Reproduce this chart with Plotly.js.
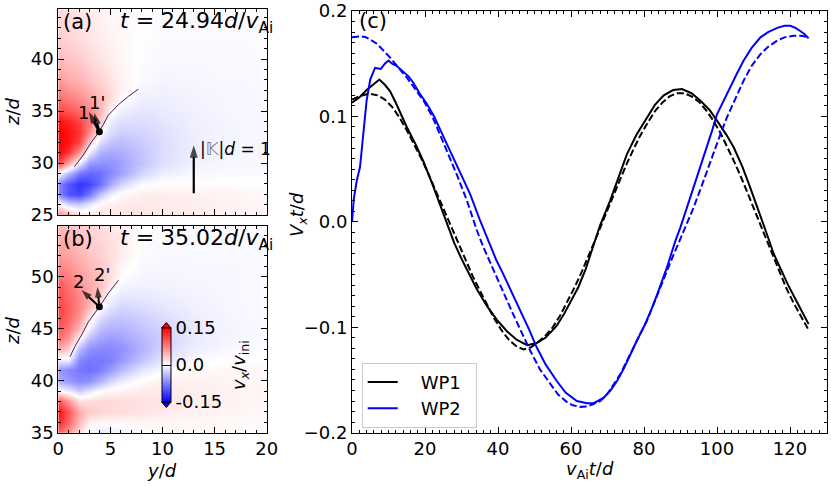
<!DOCTYPE html>
<html><head><meta charset="utf-8">
<script src="https://cdn.plot.ly/plotly-3.0.1.min.js"></script>
<style>html,body{margin:0;padding:0;background:#fff}#plot{width:831px;height:486px}</style>
</head><body><div id="plot"></div>
<script>
// ---------- panel (a) / (b) field grids ----------
const gridY = [0, 1, 2, 3, 4, 5, 6, 8, 10, 13, 16, 20];
const gridZa = [25, 26, 27, 28, 29, 30, 31, 32, 33, 34, 35, 36, 37, 38, 40, 42, 45];
const fieldA = [
 [0.07, 0.05, 0.02, 0.015, 0.015, 0.015, 0.015, 0.015, 0.012, 0.01, 0.008, 0.005],
 [0.01, -0.025, -0.03, -0.015, 0.005, 0.01, 0.012, 0.014, 0.012, 0.01, 0.008, 0.005],
 [-0.07, -0.1, -0.11, -0.08, -0.035, -0.01, 0.003, 0.01, 0.01, 0.008, 0.006, 0.004],
 [-0.07, -0.1, -0.12, -0.11, -0.085, -0.05, -0.025, -0.002, 0.002, 0.002, 0.002, 0.001],
 [0.0, -0.04, -0.08, -0.09, -0.085, -0.07, -0.055, -0.025, -0.01, -0.004, -0.003, -0.002],
 [0.11, 0.05, -0.01, -0.06, -0.065, -0.065, -0.055, -0.035, -0.018, -0.008, -0.005, -0.004],
 [0.15, 0.12, 0.06, -0.01, -0.045, -0.05, -0.048, -0.034, -0.02, -0.01, -0.006, -0.004],
 [0.15, 0.14, 0.11, 0.03, -0.02, -0.035, -0.038, -0.03, -0.02, -0.01, -0.006, -0.004],
 [0.15, 0.14, 0.12, 0.07, 0.0, -0.02, -0.028, -0.025, -0.018, -0.01, -0.006, -0.004],
 [0.14, 0.13, 0.11, 0.08, 0.03, -0.01, -0.018, -0.02, -0.015, -0.009, -0.006, -0.004],
 [0.11, 0.1, 0.09, 0.07, 0.045, 0.004, -0.01, -0.015, -0.012, -0.008, -0.005, -0.004],
 [0.09, 0.08, 0.07, 0.055, 0.04, 0.02, 0.0, -0.01, -0.01, -0.007, -0.005, -0.004],
 [0.075, 0.065, 0.055, 0.045, 0.032, 0.02, 0.008, -0.006, -0.008, -0.006, -0.005, -0.004],
 [0.06, 0.05, 0.045, 0.035, 0.025, 0.016, 0.008, -0.003, -0.006, -0.005, -0.004, -0.004],
 [0.04, 0.035, 0.03, 0.022, 0.016, 0.01, 0.005, -0.001, -0.004, -0.004, -0.004, -0.003],
 [0.03, 0.025, 0.02, 0.015, 0.01, 0.007, 0.004, 0.0, -0.003, -0.003, -0.003, -0.003],
 [0.02, 0.018, 0.014, 0.01, 0.007, 0.005, 0.003, 0.0, -0.002, -0.002, -0.002, -0.002]
];
const gridZb = [35, 36, 37, 38, 39, 40, 41, 42, 43, 44, 45, 46, 47, 48, 49, 50, 52, 55];
const fieldB = [
 [0.09, 0.06, 0.02, -0.01, -0.015, -0.012, -0.008, 0.0, 0.004, 0.004, 0.003, 0.002],
 [0.13, 0.09, 0.04, 0.01, 0.005, 0.004, 0.004, 0.006, 0.006, 0.005, 0.004, 0.003],
 [0.14, 0.1, 0.05, 0.03, 0.025, 0.022, 0.02, 0.016, 0.012, 0.008, 0.006, 0.004],
 [0.1, 0.06, 0.02, 0.02, 0.022, 0.022, 0.02, 0.018, 0.015, 0.01, 0.008, 0.005],
 [0.005, -0.01, -0.03, -0.015, 0.0, 0.005, 0.008, 0.012, 0.013, 0.01, 0.008, 0.006],
 [-0.05, -0.06, -0.07, -0.065, -0.045, -0.025, -0.01, 0.002, 0.008, 0.008, 0.007, 0.005],
 [-0.06, -0.07, -0.08, -0.085, -0.075, -0.06, -0.04, -0.015, -0.002, 0.004, 0.005, 0.004],
 [-0.01, -0.01, -0.07, -0.08, -0.08, -0.075, -0.06, -0.035, -0.015, -0.003, 0.0, 0.001],
 [0.05, 0.03, -0.04, -0.065, -0.07, -0.07, -0.065, -0.045, -0.025, -0.01, -0.004, -0.002],
 [0.08, 0.06, 0.0, -0.04, -0.055, -0.06, -0.055, -0.042, -0.028, -0.012, -0.006, -0.003],
 [0.1, 0.08, 0.04, -0.01, -0.04, -0.045, -0.045, -0.035, -0.025, -0.012, -0.007, -0.003],
 [0.11, 0.09, 0.06, 0.01, -0.02, -0.032, -0.035, -0.028, -0.02, -0.011, -0.006, -0.003],
 [0.11, 0.095, 0.07, 0.04, 0.0, -0.018, -0.025, -0.02, -0.015, -0.009, -0.005, -0.003],
 [0.105, 0.09, 0.07, 0.05, 0.025, -0.005, -0.015, -0.014, -0.011, -0.007, -0.005, -0.003],
 [0.1, 0.085, 0.065, 0.05, 0.035, 0.012, -0.007, -0.009, -0.008, -0.006, -0.005, -0.003],
 [0.085, 0.075, 0.06, 0.045, 0.035, 0.02, 0.0, -0.006, -0.006, -0.005, -0.005, -0.003],
 [0.06, 0.055, 0.045, 0.035, 0.028, 0.02, 0.01, -0.002, -0.004, -0.004, -0.004, -0.003],
 [0.04, 0.035, 0.03, 0.025, 0.02, 0.015, 0.01, 0.0, -0.002, -0.003, -0.003, -0.002]
];
// field lines and wave-packet points
const lineAy = [1.54, 2.4, 3.2, 3.94, 4.8, 5.76, 6.72, 7.68];
const lineAz = [29.64, 30.77, 32.05, 33.0, 34.6, 35.6, 36.4, 37.1];
const lineBy = [1.12, 1.6, 2.24, 2.88, 3.94, 4.8, 5.76];
const lineBz = [42.3, 43.3, 44.4, 45.65, 47.1, 48.4, 49.65];
const pointA = [3.94, 33.0];
const pointB = [3.94, 47.1];
const arrowA1 = [2.95, 34.9], arrowA1p = [3.45, 34.8];
const arrowB2 = [2.24, 48.7], arrowB2p = [3.75, 49.0];
const scaleArrow = [13, 27.1, 31.7];

// ---------- panel (c) ----------
const wp1T = [0,2,4,6,7.5,9,10.4,12,15,17.5,19.6,22,24,26,28,30,32,34.2,37,39.7,42.5,45.2,48,50.6,53,56,58,60,62,64,66,68,70.7,73,75.3,78,80.8,83,85.4,88,90.4,93,95.4,98,100,102.5,104.6,107,109.1,111.5,113.7,115.5,117.4,119.5,121.9,124,125.1];
const wp1V = [0.113,0.118,0.125,0.131,0.135,0.13,0.124,0.113,0.09,0.073,0.057,0.036,0.017,-0.002,-0.02,-0.035,-0.049,-0.064,-0.08,-0.093,-0.104,-0.112,-0.117,-0.115,-0.11,-0.099,-0.088,-0.075,-0.062,-0.045,-0.024,-0.003,0.02,0.042,0.064,0.083,0.099,0.111,0.12,0.125,0.126,0.122,0.115,0.106,0.096,0.083,0.0705,0.052,0.0325,0.01,-0.012,-0.03,-0.045,-0.06,-0.076,-0.09,-0.097];
const wp1dT = [0,2,4,5,7,9,11,13,15,17,19,21,23,25,27,29,31,33,35,37,39,41,43,45,47,49,51,53,55,57,59,61,63,65,67,69,71,73,75,77,79,81,83,85,87,89,91,93,95,97,99,101,103,105,107,109,111,113,115,117,119,121,123,125];
const wp1dV = [0.116,0.119,0.121,0.1215,0.12,0.116,0.109,0.099,0.087,0.074,0.06,0.045,0.029,0.013,-0.004,-0.02,-0.036,-0.051,-0.065,-0.079,-0.092,-0.103,-0.112,-0.118,-0.121,-0.119,-0.114,-0.108,-0.1,-0.089,-0.076,-0.062,-0.047,-0.031,-0.014,0.003,0.02,0.037,0.053,0.068,0.082,0.094,0.105,0.113,0.119,0.122,0.122,0.119,0.114,0.106,0.096,0.084,0.07,0.055,0.039,0.022,0.005,-0.013,-0.03,-0.047,-0.063,-0.077,-0.09,-0.102];
const wp2T = [0,0.5,1.3,2.2,3,4,5,6.3,7.9,9,10,11,12.2,14,15.5,16.8,18.5,20.5,22.5,24.1,26,27.8,30,32.4,35,37.8,39.5,41.5,44,46.1,48.5,50.6,53,56.1,58.5,61.6,64.4,66.2,68.9,70.8,72.6,74.5,76.2,78,79.9,81.8,83.6,85,86.3,88.6,90,91.8,93.6,95.5,97.3,98.7,100,101.8,103.6,105.5,107.3,109.5,111.9,114,116.5,118.5,120.1,121.5,122.8,124,125.1];
const wp2V = [0.0,0.022,0.039,0.052,0.08,0.115,0.135,0.146,0.145,0.15,0.153,0.15,0.148,0.143,0.138,0.132,0.122,0.112,0.1,0.088,0.074,0.061,0.045,0.026,0.002,-0.022,-0.036,-0.05,-0.068,-0.084,-0.102,-0.119,-0.135,-0.151,-0.162,-0.17,-0.172,-0.172,-0.167,-0.16,-0.151,-0.139,-0.126,-0.113,-0.1,-0.085,-0.069,-0.056,-0.043,-0.018,-0.005,0.014,0.0325,0.052,0.0705,0.087,0.102,0.115,0.127,0.141,0.153,0.165,0.175,0.18,0.184,0.186,0.186,0.184,0.181,0.178,0.174];
const wp2dT = [0,2,3.5,5,6.8,8.5,10.4,12.5,15,17.5,19.6,22,24.1,26.5,28.7,31.5,34.2,36,38,39.7,42,44.2,46.5,48.8,51.5,54.3,56.5,58.9,60.5,62.5,64.5,66,68,70,72,73.5,75.3,77.1,79,80.8,82.5,84.5,86.3,88.1,89,91.3,93.6,96,98.2,100.5,102.7,105,107.3,109.5,111.9,114,116.5,118.5,121,123,125.1];
const wp2dV = [0.175,0.1758,0.1755,0.173,0.169,0.163,0.156,0.147,0.137,0.125,0.115,0.1,0.083,0.064,0.045,0.02,-0.008,-0.024,-0.04,-0.053,-0.071,-0.088,-0.105,-0.122,-0.14,-0.154,-0.164,-0.171,-0.174,-0.1755,-0.175,-0.173,-0.17,-0.163,-0.153,-0.1445,-0.132,-0.119,-0.106,-0.094,-0.079,-0.062,-0.046,-0.031,-0.024,-0.005,0.0136,0.036,0.058,0.079,0.099,0.117,0.134,0.148,0.159,0.166,0.172,0.175,0.1765,0.1765,0.175];
const seriesNames = ['WP1', 'WP2'];
const cbTickVals = [-0.15, 0, 0.15];
const cbTickText = ['-0.15', '0.0', '0.15'];

// ---------- layout helpers ----------
const W = 831, H = 486;
const px = v => v / W, py = v => 1 - v / H;
const FONT = 'DejaVu Sans';
const bwr = [[0, 'rgb(0,0,255)'], [0.5, 'rgb(255,255,255)'], [1, 'rgb(255,0,0)']];
const purple = '#4a1a6b';

function axis(extra, minorStep) {
  return Object.assign({
    showline: true, linecolor: 'black', linewidth: 1, mirror: 'allticks',
    ticks: 'inside', ticklen: 6, tickwidth: 1, tickcolor: 'black',
    showgrid: false, zeroline: false, fixedrange: true,
    tickfont: {family: FONT, size: 18, color: 'black'},
    minor: {ticks: 'inside', ticklen: 3, tickwidth: 1, tickcolor: 'black', dtick: minorStep, showgrid: false}
  }, extra);
}
function arrowTrace(xa, ya, tail, head, w, sz) {
  return {type: 'scatter', mode: 'lines+markers', x: [tail[0], head[0]], y: [tail[1], head[1]], xaxis: xa, yaxis: ya,
    line: {color: 'black', width: w}, marker: {symbol: 'arrow', angleref: 'previous', size: [0, sz], color: 'black', line: {width: 0}},
    showlegend: false, hoverinfo: 'skip'};
}

const traces = [
  {type: 'heatmap', x: gridY, y: gridZa, z: fieldA, colorscale: bwr, zmin: -0.15, zmax: 0.15,
   zsmooth: 'best', showscale: false, xaxis: 'x', yaxis: 'y', hoverinfo: 'skip'},
  {type: 'heatmap', x: gridY, y: gridZb, z: fieldB, colorscale: bwr, zmin: -0.15, zmax: 0.15,
   zsmooth: 'best', xaxis: 'x2', yaxis: 'y2', hoverinfo: 'skip',
   colorbar: {x: px(161.7), xanchor: 'left', y: py(365), yanchor: 'middle', len: 74 / H, lenmode: 'fraction',
     thickness: 9, thicknessmode: 'pixels', outlinewidth: 1, outlinecolor: 'black', xpad: 0, ypad: 0,
     tickmode: 'array', tickvals: cbTickVals, ticktext: cbTickText, ticks: 'inside', ticklen: 9, tickcolor: 'black',
     tickfont: {family: FONT, size: 18, color: 'black'}}},
  {type: 'scatter', mode: 'lines', x: lineAy, y: lineAz, xaxis: 'x', yaxis: 'y', line: {color: purple, width: 1}, showlegend: false, hoverinfo: 'skip'},
  {type: 'scatter', mode: 'lines', x: lineBy, y: lineBz, xaxis: 'x2', yaxis: 'y2', line: {color: purple, width: 1}, showlegend: false, hoverinfo: 'skip'},
  arrowTrace('x', 'y', pointA, arrowA1, 2.5, 12),
  arrowTrace('x', 'y', pointA, arrowA1p, 2.5, 12),
  arrowTrace('x2', 'y2', pointB, arrowB2, 2, 11),
  arrowTrace('x2', 'y2', pointB, arrowB2p, 2, 11),
  arrowTrace('x', 'y', [scaleArrow[0], scaleArrow[1]], [scaleArrow[0], scaleArrow[2]], 2.2, 13),
  {type: 'scatter', mode: 'markers', x: [pointA[0]], y: [pointA[1]], xaxis: 'x', yaxis: 'y', marker: {color: 'black', size: 7}, showlegend: false, hoverinfo: 'skip'},
  {type: 'scatter', mode: 'markers', x: [pointB[0]], y: [pointB[1]], xaxis: 'x2', yaxis: 'y2', marker: {color: 'black', size: 7}, showlegend: false, hoverinfo: 'skip'},
  {type: 'scatter', mode: 'lines', x: wp1T, y: wp1V, name: '\u2003' + seriesNames[0] + '\u2002', xaxis: 'x3', yaxis: 'y3', line: {color: 'black', width: 2}},
  {type: 'scatter', mode: 'lines', x: wp2T, y: wp2V, name: '\u2003' + seriesNames[1] + '\u2002', xaxis: 'x3', yaxis: 'y3', line: {color: 'blue', width: 2}},
  {type: 'scatter', mode: 'lines', x: wp1dT, y: wp1dV, xaxis: 'x3', yaxis: 'y3', showlegend: false, line: {color: 'black', width: 2, dash: '7px,3px'}},
  {type: 'scatter', mode: 'lines', x: wp2dT, y: wp2dV, xaxis: 'x3', yaxis: 'y3', showlegend: false, line: {color: 'blue', width: 2, dash: '7px,3px'}}
];

function label(text, x, y, opts) {
  return Object.assign({xref: 'paper', yref: 'paper', x: x, y: y, text: text, showarrow: false,
    font: {family: FONT, size: 18, color: 'black'}, xanchor: 'center', yanchor: 'middle'}, opts || {});
}
const f20 = {family: FONT, size: 21, color: 'black'};
const f22 = {family: FONT, size: 22, color: 'black'};

const annotations = [
  {xref: 'x', yref: 'y', x: 2.37, y: 34.9, text: '1', showarrow: false, font: {family: FONT, size: 18, color: 'black'}},
  {xref: 'x', yref: 'y', x: 3.68, y: 35.8, text: "1'", showarrow: false, font: {family: FONT, size: 18, color: 'black'}},
  {xref: 'x2', yref: 'y2', x: 1.92, y: 49.5, text: '2', showarrow: false, font: {family: FONT, size: 18, color: 'black'}},
  {xref: 'x2', yref: 'y2', x: 4.17, y: 50.2, text: "2'", showarrow: false, font: {family: FONT, size: 18, color: 'black'}},
  {xref: 'x', yref: 'y', x: 13.45, y: 31.3, xanchor: 'left', yanchor: 'middle', showarrow: false,
   text: "|<span style='color:#777'>𝕂</span>|<i>d</i> = 1", font: {family: FONT, size: 17, color: 'black'}},
  label('(a)', px(61), py(22), {xanchor: 'left', font: f20}),
  label('<i>t</i> = 24.94<i>d</i>/<i>v</i><sub>Ai</sub>', px(275), py(22), {xanchor: 'right', font: f22}),
  label('(b)', px(61), py(239), {xanchor: 'left', font: f20}),
  label('<i>t</i> = 35.02<i>d</i>/<i>v</i><sub>Ai</sub>', px(275), py(239), {xanchor: 'right', font: f22}),
  label('(c)', px(357), py(21), {xanchor: 'left', font: f20}),
  label('<i>z</i>/<i>d</i>', px(12), py(112), {textangle: -90}),
  label('<i>z</i>/<i>d</i>', px(12), py(331), {textangle: -90}),
  label('<i>y</i>/<i>d</i>', px(162), py(470)),
  label('<i>V</i><sub><i>x</i></sub><i>t</i>/<i>d</i>', px(298), py(215), {textangle: -90}),
  label('<i>v</i><sub>Ai</sub><i>t</i>/<i>d</i>', px(590), py(470)),
  label('<i>v</i><sub><i>x</i></sub>/<i>v</i><sub>ini</sub>', px(240), py(365), {textangle: -90})
];

// colorbar extension triangles
const cbL = px(161.7), cbR = px(171), cbM = px(166.35);
const shapes = [
  {type: 'path', xref: 'paper', yref: 'paper', path: `M ${cbL},${py(328)} L ${cbR},${py(328)} L ${cbM},${py(322.5)} Z`, fillcolor: 'rgb(255,0,0)', line: {color: 'black', width: 1}},
  {type: 'path', xref: 'paper', yref: 'paper', path: `M ${cbL},${py(402)} L ${cbR},${py(402)} L ${cbM},${py(407.5)} Z`, fillcolor: 'rgb(0,0,255)', line: {color: 'black', width: 1}}
];

const layout = {
  width: W, height: H, margin: {l: 0, r: 0, t: 0, b: 0}, paper_bgcolor: 'white', plot_bgcolor: 'white',
  font: {family: FONT, size: 18, color: 'black'},
  xaxis: axis({domain: [px(58.3), px(266.7)], range: [0, 20], dtick: 5, showticklabels: false, anchor: 'y'}, 1),
  yaxis: axis({domain: [py(215), py(9.3)], range: [25, 44.78], dtick: 5, anchor: 'x'}, 1),
  xaxis2: axis({domain: [px(58.3), px(266.7)], range: [0, 20], dtick: 5, anchor: 'y2'}, 1),
  yaxis2: axis({domain: [py(432.7), py(226)], range: [35, 54.87], dtick: 5, anchor: 'x2'}, 1),
  xaxis3: axis({domain: [px(352), px(826.5)], range: [0, 130], dtick: 20, anchor: 'y3'}, 2),
  yaxis3: axis({domain: [py(432.7), py(11)], range: [-0.2, 0.2], dtick: 0.1, tickformat: '.1f', anchor: 'x3'}, 0.01),
  showlegend: true,
  legend: {x: px(361.7), y: py(362.7), xanchor: 'left', yanchor: 'top', bgcolor: 'rgba(255,255,255,0.8)',
    bordercolor: '#cccccc', borderwidth: 1, font: {family: FONT, size: 18, color: 'black'}},
  annotations: annotations,
  shapes: shapes
};

Plotly.newPlot('plot', traces, layout, {staticPlot: true, displayModeBar: false});
</script></body></html>
